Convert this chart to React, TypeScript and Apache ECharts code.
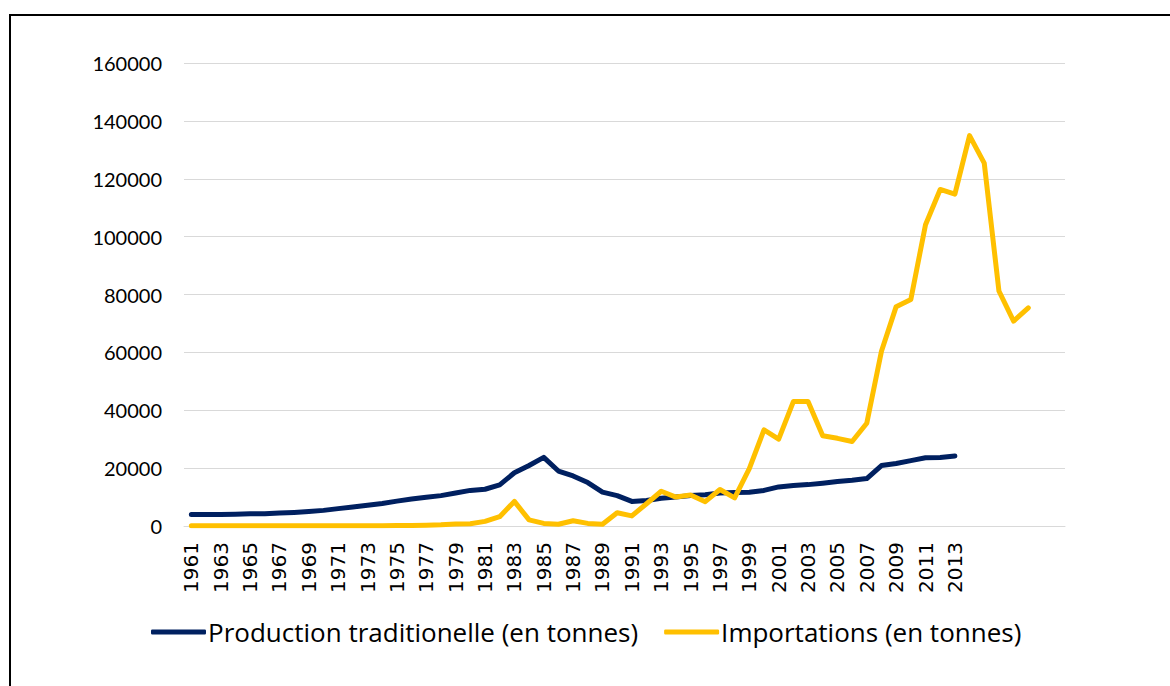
import React, { useEffect, useRef } from "react";
import * as echarts from "echarts";

const years: string[] = [
  "1961", "1962", "1963", "1964", "1965", "1966", "1967", "1968", "1969", "1970",
  "1971", "1972", "1973", "1974", "1975", "1976", "1977", "1978", "1979", "1980",
  "1981", "1982", "1983", "1984", "1985", "1986", "1987", "1988", "1989", "1990",
  "1991", "1992", "1993", "1994", "1995", "1996", "1997", "1998", "1999", "2000",
  "2001", "2002", "2003", "2004", "2005", "2006", "2007", "2008", "2009", "2010",
  "2011", "2012", "2013", "2014", "2015", "2016", "2017", "2018", "2019", "2020",
];

const lastLabelledYear = 2013;

const production: number[] = [
  4000, 4000, 4000, 4100, 4200, 4200, 4500, 4700, 5000, 5400,
  6000, 6600, 7200, 7800, 8600, 9300, 9900, 10500, 11400, 12300,
  12700, 14200, 18400, 20900, 23700, 19000, 17300, 15000, 11700, 10500,
  8500, 8800, 9600, 10000, 10500, 10800, 11400, 11600, 11700, 12300,
  13500, 14000, 14300, 14800, 15400, 15800, 16400, 20900, 21600, 22600,
  23600, 23700, 24200,
];

const imports: number[] = [
  100, 100, 100, 100, 100, 100, 100, 100, 100, 100,
  100, 100, 100, 100, 200, 200, 300, 400, 700, 800,
  1600, 3200, 8500, 2100, 900, 600, 1800, 900, 600, 4600,
  3500, 7700, 12000, 10000, 10700, 8400, 12600, 9700, 19800, 33200,
  30000, 43000, 43000, 31200, 30300, 29200, 35500, 60400, 75800, 78300,
  104100, 116300, 114700, 134900, 125400, 81200, 70800, 75400,
];

const seriesNames = ["Production traditionelle (en tonnes)", "Importations (en tonnes)"];
const colors = ["#002060", "#FFC000"];

export default function App() {
  const ref = useRef<HTMLDivElement>(null);
  useEffect(() => {
    if (!ref.current) return;
    const chart = echarts.init(ref.current, null, { renderer: "svg" });
    chart.setOption({
      animation: false,
      backgroundColor: "#ffffff",
      graphic: [
        {
          type: "rect",
          shape: { x: 10, y: 15, width: 1300, height: 800 },
          style: { fill: "none", stroke: "#000000", lineWidth: 2 },
          z: -1,
          silent: true,
        },
      ],
      grid: { left: 184, right: 105, top: 63, bottom: 160, containLabel: false },
      legend: {
        bottom: 36,
        left: 146,
        icon: "roundRect",
        itemWidth: 55,
        itemHeight: 5,
        itemGap: 26,
        textStyle: {
          fontFamily: "'Open Sans', sans-serif",
          fontSize: 26,
          color: "#000000",
          padding: [0, 0, 0, -3],
        },
        data: seriesNames,
      },
      xAxis: {
        type: "category",
        data: years,
        boundaryGap: true,
        axisLine: { show: true, lineStyle: { color: "#d9d9d9", width: 1 } },
        axisTick: { show: false },
        axisLabel: {
          rotate: 90,
          interval: 1,
          margin: 16,
          fontFamily: "'DejaVu Sans', sans-serif",
          fontSize: 20,
          color: "#000000",
          formatter: (v: string) => (Number(v) <= lastLabelledYear ? v : ""),
        },
        splitLine: { show: false },
      },
      yAxis: {
        type: "value",
        min: 0,
        max: 160000,
        interval: 20000,
        axisLine: { show: false },
        axisTick: { show: false },
        axisLabel: {
          margin: 22,
          fontFamily: "Lato, 'Open Sans', sans-serif",
          fontSize: 20,
          color: "#000000",
          formatter: (v: number) => String(v),
        },
        splitLine: { lineStyle: { color: "#d9d9d9", width: 1 } },
      },
      series: [
        {
          name: seriesNames[0],
          type: "line",
          data: production,
          symbol: "none",
          color: colors[0],
          lineStyle: { color: colors[0], width: 5, cap: "round", join: "round" },
        },
        {
          name: seriesNames[1],
          type: "line",
          data: imports,
          symbol: "none",
          color: colors[1],
          lineStyle: { color: colors[1], width: 5, cap: "round", join: "round" },
        },
      ],
    });
    return () => chart.dispose();
  }, []);
  return (
    <div
      ref={ref}
      style={{ position: "fixed", left: 0, top: 0, width: 1170, height: 686 }}
    />
  );
}
